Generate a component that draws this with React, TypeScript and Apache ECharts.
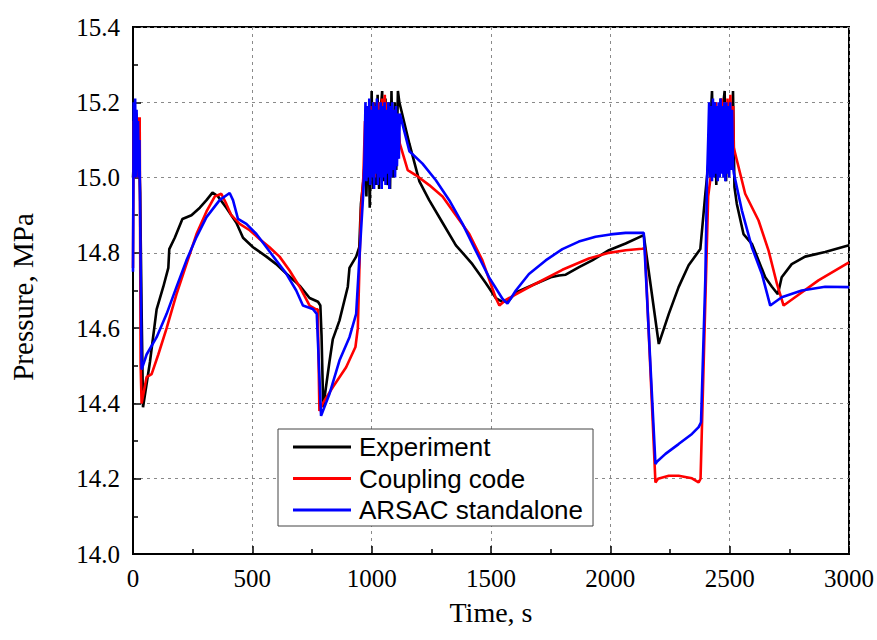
import React, { useEffect, useRef } from "react";
import * as echarts from "echarts";

const seriesNames = ["Experiment", "Coupling code", "ARSAC standalone"];
const seriesColors = ["#000000", "#ff0000", "#0000ff"];
const xTickValues = [0, 500, 1000, 1500, 2000, 2500, 3000];
const yTickValues = [14.0, 14.2, 14.4, 14.6, 14.8, 15.0, 15.2, 15.4];

const experiment: [number, number][] = [
  [0, 15.0], [8, 15.1], [16, 15.04], [24, 15.08], [30, 14.96], [36, 14.65], [42, 14.39],
  [71, 14.51], [99, 14.65], [127, 14.71], [148, 14.76], [152, 14.81], [175, 14.84], [207, 14.89],
  [245, 14.9], [280, 14.92], [308, 14.94], [333, 14.96], [356, 14.95], [391, 14.92], [433, 14.88],
  [461, 14.84], [503, 14.815], [559, 14.79], [600, 14.77], [642, 14.745], [698, 14.713], [740, 14.68],
  [775, 14.67], [785, 14.66], [790, 14.58], [797, 14.39], [810, 14.45], [823, 14.51], [837, 14.57],
  [865, 14.62], [900, 14.71], [907, 14.76], [935, 14.79], [948, 14.815], [955, 14.93],
  [965, 14.99], [972, 15.05], [978, 14.95], [985, 15.15], [992, 14.92], [1000, 15.23], [1006, 14.97],
  [1012, 15.2], [1018, 14.98], [1025, 15.22], [1031, 14.97], [1038, 15.18], [1044, 15.23], [1050, 14.99],
  [1058, 15.21], [1064, 14.98], [1071, 15.2], [1077, 14.97], [1083, 15.23], [1090, 15.0], [1097, 15.2],
  [1103, 15.02], [1110, 15.23], [1116, 15.2], [1158, 15.09], [1200, 14.99], [1241, 14.94], [1297, 14.88],
  [1353, 14.82], [1381, 14.8], [1422, 14.77], [1478, 14.72], [1520, 14.68], [1548, 14.67], [1570, 14.67],
  [1604, 14.695], [1687, 14.718], [1750, 14.735], [1785, 14.74], [1813, 14.742], [1869, 14.762],
  [1924, 14.78], [1994, 14.807], [2064, 14.825], [2140, 14.847], [2203, 14.558], [2245, 14.638],
  [2286, 14.709], [2328, 14.767], [2377, 14.81], [2398, 14.957], [2412, 15.046], [2420, 15.15],
  [2426, 15.23], [2432, 15.05], [2438, 15.2], [2444, 14.98], [2450, 15.18], [2456, 15.0], [2462, 15.21],
  [2468, 15.02], [2474, 15.2], [2479, 15.23], [2485, 14.99], [2491, 15.19], [2497, 15.02], [2503, 15.2],
  [2509, 15.05], [2514, 15.23], [2520, 14.975], [2530, 14.93], [2558, 14.85], [2593, 14.824],
  [2621, 14.78], [2649, 14.735], [2677, 14.71], [2702, 14.69], [2718, 14.735], [2760, 14.77],
  [2816, 14.79], [2900, 14.802], [3000, 14.82],
];

const couplingCode: [number, number][] = [
  [0, 14.76], [3, 15.15], [6, 15.0], [9, 15.18], [12, 15.02], [15, 15.17], [18, 15.0], [21, 15.16],
  [24, 15.05], [28, 15.16], [32, 14.5], [36, 14.4], [57, 14.47], [78, 14.478], [106, 14.53],
  [141, 14.6], [182, 14.69], [224, 14.77], [266, 14.85], [308, 14.91], [343, 14.95], [370, 14.957],
  [391, 14.93], [412, 14.9], [447, 14.877], [489, 14.86], [530, 14.837], [572, 14.815], [614, 14.79],
  [656, 14.753], [698, 14.71], [740, 14.66], [767, 14.65], [774, 14.65], [781, 14.38], [795, 14.4],
  [837, 14.443], [893, 14.496], [932, 14.55], [942, 14.6], [955, 14.913], [965, 15.0],
  [972, 15.15], [977, 15.0], [983, 15.18], [989, 15.01], [995, 15.19], [1001, 15.02], [1007, 15.2],
  [1013, 15.0], [1019, 15.19], [1025, 15.02], [1031, 15.2], [1037, 15.01], [1043, 15.21], [1049, 15.03],
  [1055, 15.22], [1061, 15.02], [1067, 15.2], [1073, 15.03], [1079, 15.19], [1085, 15.02], [1091, 15.18],
  [1097, 15.04], [1103, 15.17], [1109, 15.05], [1114, 15.12], [1118, 15.09], [1151, 15.02],
  [1186, 15.006], [1241, 14.98], [1297, 14.95], [1353, 14.9], [1409, 14.85], [1464, 14.78],
  [1520, 14.68], [1535, 14.66], [1562, 14.675], [1604, 14.69], [1687, 14.718], [1799, 14.755],
  [1910, 14.785], [1994, 14.8], [2064, 14.807], [2133, 14.811], [2145, 14.812], [2189, 14.19],
  [2200, 14.2], [2245, 14.208], [2286, 14.208], [2342, 14.201], [2370, 14.19], [2378, 14.2],
  [2395, 14.6], [2410, 14.95], [2420, 15.0], [2426, 15.03], [2431, 15.18], [2437, 15.02], [2443, 15.2],
  [2449, 15.03], [2455, 15.19], [2461, 15.02], [2467, 15.21], [2473, 15.04], [2479, 15.2], [2485, 15.03],
  [2491, 15.21], [2497, 15.05], [2503, 15.22], [2509, 15.06], [2515, 15.19], [2517, 15.08],
  [2565, 14.957], [2621, 14.886], [2663, 14.806], [2698, 14.718], [2726, 14.66], [2774, 14.682],
  [2872, 14.727], [3000, 14.775],
];

const arsacStandalone: [number, number][] = [
  [0, 14.75], [3, 15.2], [6, 15.02], [9, 15.21], [12, 15.0], [15, 15.18], [18, 15.02], [21, 15.15],
  [24, 15.0], [27, 15.1], [30, 14.9], [36, 14.49], [57, 14.53], [99, 14.576], [141, 14.638],
  [182, 14.709], [224, 14.78], [266, 14.842], [308, 14.895], [363, 14.94], [405, 14.959], [419, 14.94],
  [440, 14.89], [475, 14.877], [517, 14.85], [559, 14.815], [600, 14.78], [642, 14.745], [684, 14.7],
  [712, 14.66], [753, 14.651], [770, 14.638], [788, 14.367], [823, 14.425], [865, 14.514],
  [907, 14.576], [935, 14.638], [948, 14.78], [965, 14.96],
  [970, 15.05], [974, 15.2], [978, 14.99], [982, 15.19], [986, 15.0], [990, 15.21], [994, 14.98],
  [998, 15.18], [1002, 15.0], [1006, 15.2], [1010, 14.97], [1014, 15.19], [1018, 15.01], [1022, 15.21],
  [1026, 14.98], [1030, 15.18], [1034, 15.0], [1038, 15.2], [1042, 14.97], [1046, 15.19], [1050, 15.0],
  [1054, 15.2], [1058, 14.98], [1062, 15.18], [1066, 15.01], [1070, 15.2], [1074, 14.97], [1078, 15.19],
  [1082, 15.0], [1086, 15.2], [1090, 15.02], [1094, 15.18], [1098, 15.0], [1102, 15.19], [1106, 15.03],
  [1110, 15.17], [1114, 15.05], [1118, 15.17], [1158, 15.07], [1213, 15.037], [1269, 14.993],
  [1325, 14.94], [1381, 14.877], [1436, 14.806], [1492, 14.735], [1548, 14.678], [1569, 14.665],
  [1604, 14.7], [1659, 14.744], [1729, 14.78], [1799, 14.81], [1868, 14.83], [1938, 14.843],
  [2000, 14.849], [2064, 14.853], [2140, 14.853], [2189, 14.239], [2195, 14.245], [2231, 14.266],
  [2286, 14.292], [2342, 14.319], [2370, 14.337], [2380, 14.35], [2398, 14.73], [2405, 14.99],
  [2410, 15.1], [2414, 15.2], [2418, 15.0], [2422, 15.19], [2426, 14.99], [2430, 15.21], [2434, 15.0],
  [2438, 15.2], [2442, 15.01], [2446, 15.19], [2450, 14.99], [2454, 15.2], [2458, 15.0], [2462, 15.21],
  [2466, 15.01], [2470, 15.19], [2474, 15.0], [2478, 15.2], [2482, 14.99], [2486, 15.2], [2490, 15.01],
  [2494, 15.19], [2498, 15.0], [2502, 15.2], [2506, 15.02], [2510, 15.18], [2514, 15.03], [2518, 15.01],
  [2551, 14.913], [2593, 14.815], [2635, 14.744], [2670, 14.66], [2718, 14.682], [2802, 14.7],
  [2900, 14.71], [3000, 14.709],
];

const allData = [experiment, couplingCode, arsacStandalone];

export default function App() {
  const ref = useRef<HTMLDivElement>(null);
  useEffect(() => {
    if (!ref.current) return;
    const chart = echarts.init(ref.current, undefined, { renderer: "svg" });
    const serif = "Liberation Serif";
    const sans = "Liberation Sans";
    const tickLine = { color: "#000", width: 1.5 };
    const gridLine = { type: [3, 4] as any, color: "#8a8a8a", width: 1 };
    chart.setOption({
      animation: false,
      backgroundColor: "#ffffff",
      grid: {
        left: 133,
        right: 26,
        top: 27,
        bottom: 86,
        show: true,
        borderColor: "#000",
        borderWidth: 2,
        backgroundColor: "transparent",
      },
      xAxis: {
        type: "value",
        min: xTickValues[0],
        max: xTickValues[xTickValues.length - 1],
        interval: xTickValues[1] - xTickValues[0],
        axisLine: { show: true, onZero: false, lineStyle: { color: "#000", width: 2 } },
        axisTick: { show: true, inside: true, length: 8, lineStyle: tickLine },
        minorTick: { show: true, splitNumber: 2, length: 5, lineStyle: tickLine },
        splitLine: { show: true, lineStyle: gridLine },
        axisLabel: {
          fontFamily: serif,
          fontSize: 25,
          color: "#000",
          margin: 12,
          formatter: (v: number) => String(v),
        },
      },
      yAxis: {
        type: "value",
        min: yTickValues[0],
        max: yTickValues[yTickValues.length - 1],
        interval: 0.2,
        axisLine: { show: true, onZero: false, lineStyle: { color: "#000", width: 2 } },
        axisTick: { show: true, inside: true, length: 8, lineStyle: tickLine },
        minorTick: { show: true, splitNumber: 2, length: 5, lineStyle: tickLine },
        splitLine: { show: true, lineStyle: gridLine },
        axisLabel: {
          fontFamily: serif,
          fontSize: 25,
          color: "#000",
          margin: 13,
          formatter: (v: number) => v.toFixed(1),
        },
      },
      legend: {
        show: true,
        orient: "vertical",
        left: 278,
        top: 429,
        padding: [5, 10, 3, 15],
        itemGap: 5.5,
        itemWidth: 58,
        itemHeight: 3,
        icon: "rect",
        backgroundColor: "#ffffff",
        borderColor: "#444",
        borderWidth: 1,
        borderRadius: 0,
        textStyle: { fontFamily: sans, fontSize: 26, color: "#000", lineHeight: 26, padding: [0, 0, 0, 3] },
        data: seriesNames,
      },
      graphic: [
        {
          type: "text",
          x: 23,
          y: 297,
          rotation: Math.PI / 2,
          style: {
            text: "Pressure, MPa",
            fontFamily: serif,
            fontSize: 29,
            fill: "#000",
            textAlign: "center",
            textVerticalAlign: "middle",
          },
        },
        {
          type: "text",
          x: 491,
          y: 612,
          style: {
            text: "Time, s",
            fontFamily: serif,
            fontSize: 28,
            fill: "#000",
            textAlign: "center",
            textVerticalAlign: "middle",
          },
        },
      ],
      series: seriesNames.map((name, i) => ({
        name,
        type: "line",
        data: allData[i],
        showSymbol: false,
        symbol: "none",
        color: seriesColors[i],
        lineStyle: { color: seriesColors[i], width: 2.6 },
        z: 2 + i,
      })),
    });
    return () => chart.dispose();
  }, []);
  return <div ref={ref} style={{ position: "fixed", left: 0, top: 0, width: 877, height: 640 }} />;
}
